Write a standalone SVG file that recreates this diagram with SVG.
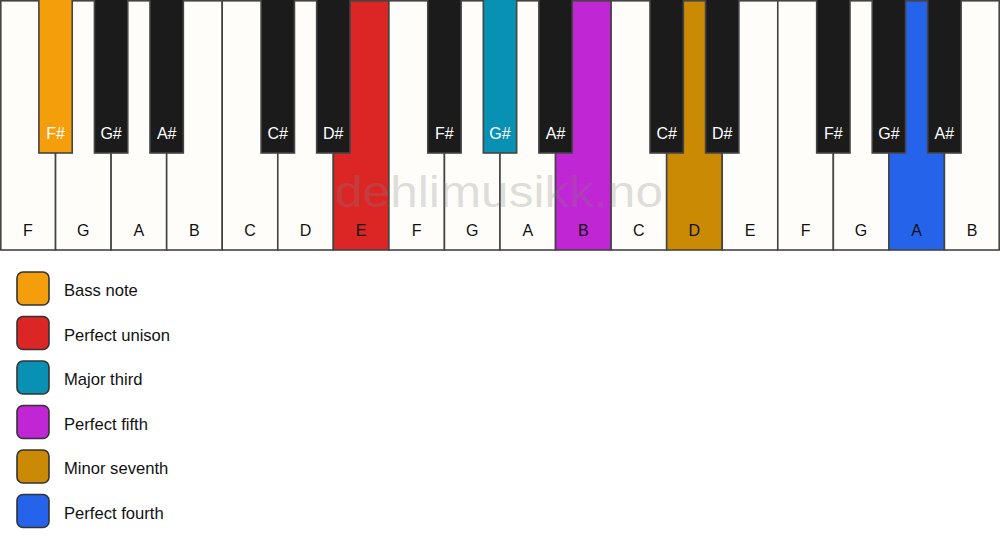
<svg xmlns="http://www.w3.org/2000/svg" width="1000" height="550" viewBox="0 0 1000 550">
<style>
.w{fill:#fffdf9;stroke:#444;stroke-width:1.6}
.b{fill:#1b1b1b;stroke:#444;stroke-width:1.6}
.wt{font-family:"Liberation Sans",Arial,sans-serif;font-size:16px;fill:#111;text-anchor:middle}
.bt{font-family:"Liberation Sans",Arial,sans-serif;font-size:16px;fill:#fff;text-anchor:middle}
.lg{stroke:#333;stroke-width:1.6}
.lt{font-family:"Liberation Sans",Arial,sans-serif;font-size:16.6px;fill:#111}
</style>
<rect width="1000" height="550" fill="#fff"/>
<g id="white-keys">
<rect class="w" x="0.8" y="0.8" width="54.76" height="249.2"/>
<rect class="w" x="55.56" y="0.8" width="55.56" height="249.2"/>
<rect class="w" x="111.11" y="0.8" width="55.56" height="249.2"/>
<rect class="w" x="166.67" y="0.8" width="55.56" height="249.2"/>
<rect class="w" x="222.22" y="0.8" width="55.56" height="249.2"/>
<rect class="w" x="277.78" y="0.8" width="55.56" height="249.2"/>
<rect class="w" x="333.33" y="0.8" width="55.56" height="249.2" style="fill:#dc2626"/>
<rect class="w" x="388.89" y="0.8" width="55.56" height="249.2"/>
<rect class="w" x="444.44" y="0.8" width="55.56" height="249.2"/>
<rect class="w" x="500" y="0.8" width="55.56" height="249.2"/>
<rect class="w" x="555.56" y="0.8" width="55.56" height="249.2" style="fill:#c026d3"/>
<rect class="w" x="611.11" y="0.8" width="55.56" height="249.2"/>
<rect class="w" x="666.67" y="0.8" width="55.56" height="249.2" style="fill:#ca8a04"/>
<rect class="w" x="722.22" y="0.8" width="55.56" height="249.2"/>
<rect class="w" x="777.78" y="0.8" width="55.56" height="249.2"/>
<rect class="w" x="833.33" y="0.8" width="55.56" height="249.2"/>
<rect class="w" x="888.89" y="0.8" width="55.56" height="249.2" style="fill:#2563eb"/>
<rect class="w" x="944.44" y="0.8" width="54.76" height="249.2"/>
</g>
<g id="white-labels">
<text class="wt" x="27.8" y="236">F</text>
<text class="wt" x="83.3" y="236">G</text>
<text class="wt" x="138.9" y="236">A</text>
<text class="wt" x="194.4" y="236">B</text>
<text class="wt" x="250" y="236">C</text>
<text class="wt" x="305.6" y="236">D</text>
<text class="wt" x="361.1" y="236">E</text>
<text class="wt" x="416.7" y="236">F</text>
<text class="wt" x="472.2" y="236">G</text>
<text class="wt" x="527.8" y="236">A</text>
<text class="wt" x="583.3" y="236">B</text>
<text class="wt" x="638.9" y="236">C</text>
<text class="wt" x="694.4" y="236">D</text>
<text class="wt" x="750" y="236">E</text>
<text class="wt" x="805.6" y="236">F</text>
<text class="wt" x="861.1" y="236">G</text>
<text class="wt" x="916.7" y="236">A</text>
<text class="wt" x="972.2" y="236">B</text>
</g>
<g id="black-keys">
<rect class="b" x="38.89" y="-2" width="33.33" height="155" style="fill:#f59e0b"/>
<rect class="b" x="94.44" y="-2" width="33.33" height="155"/>
<rect class="b" x="150" y="-2" width="33.33" height="155"/>
<rect class="b" x="261.11" y="-2" width="33.33" height="155"/>
<rect class="b" x="316.67" y="-2" width="33.33" height="155"/>
<rect class="b" x="427.78" y="-2" width="33.33" height="155"/>
<rect class="b" x="483.33" y="-2" width="33.33" height="155" style="fill:#0891b2"/>
<rect class="b" x="538.89" y="-2" width="33.33" height="155"/>
<rect class="b" x="650" y="-2" width="33.33" height="155"/>
<rect class="b" x="705.56" y="-2" width="33.33" height="155"/>
<rect class="b" x="816.67" y="-2" width="33.33" height="155"/>
<rect class="b" x="872.22" y="-2" width="33.33" height="155"/>
<rect class="b" x="927.78" y="-2" width="33.33" height="155"/>
</g>
<g id="black-labels">
<text class="bt" x="55.6" y="139">F#</text>
<text class="bt" x="111.1" y="139">G#</text>
<text class="bt" x="166.7" y="139">A#</text>
<text class="bt" x="277.8" y="139">C#</text>
<text class="bt" x="333.3" y="139">D#</text>
<text class="bt" x="444.4" y="139">F#</text>
<text class="bt" x="500" y="139">G#</text>
<text class="bt" x="555.6" y="139">A#</text>
<text class="bt" x="666.7" y="139">C#</text>
<text class="bt" x="722.2" y="139">D#</text>
<text class="bt" x="833.3" y="139">F#</text>
<text class="bt" x="888.9" y="139">G#</text>
<text class="bt" x="944.4" y="139">A#</text>
</g>
<text x="335" y="207" textLength="328" lengthAdjust="spacingAndGlyphs" font-family="Liberation Sans,Arial,sans-serif" font-size="45" fill="#808080" fill-opacity="0.27">dehlimusikk.no</text>
<g id="legend">
<rect class="lg" x="17" y="272" width="32" height="33" rx="6" fill="#f59e0b"/>
<text class="lt" x="64" y="296">Bass note</text>
<rect class="lg" x="17" y="316.5" width="32" height="33" rx="6" fill="#dc2626"/>
<text class="lt" x="64" y="340.5">Perfect unison</text>
<rect class="lg" x="17" y="361" width="32" height="33" rx="6" fill="#0891b2"/>
<text class="lt" x="64" y="385">Major third</text>
<rect class="lg" x="17" y="405.5" width="32" height="33" rx="6" fill="#c026d3"/>
<text class="lt" x="64" y="429.5">Perfect fifth</text>
<rect class="lg" x="17" y="450" width="32" height="33" rx="6" fill="#ca8a04"/>
<text class="lt" x="64" y="474">Minor seventh</text>
<rect class="lg" x="17" y="494.5" width="32" height="33" rx="6" fill="#2563eb"/>
<text class="lt" x="64" y="518.5">Perfect fourth</text>
</g>
</svg>
